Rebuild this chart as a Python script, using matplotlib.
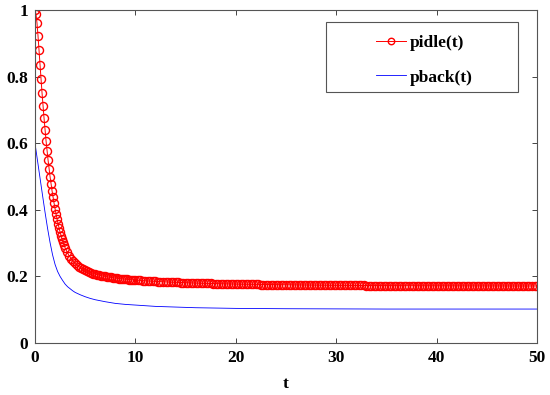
import numpy as np
import matplotlib
matplotlib.use("Agg")
import matplotlib.pyplot as plt
from matplotlib.patches import Rectangle

# pidle(t): sampled every 0.1 up to t=3, every 0.2 up to t=10, every 0.25 after
t_idle = np.concatenate([np.arange(0, 31) * 0.1,
                         3.0 + np.arange(1, 36) * 0.2,
                         10.0 + np.arange(1, 161) * 0.25])
pidle = [
    1.000, 0.988, 0.961, 0.923, 0.880, 0.836, 0.793, 0.752, 0.713, 0.676,
    0.641, 0.608, 0.578, 0.550, 0.524, 0.500, 0.478, 0.457, 0.438, 0.420,
    0.403, 0.387, 0.372, 0.358, 0.345, 0.333, 0.322, 0.312, 0.303, 0.294,
    0.286,
    # 3.2 .. 10.0
    0.2730, 0.2620, 0.2530, 0.2455, 0.2392, 0.2338, 0.2291, 0.2250, 0.2214, 0.2182,
    0.2154, 0.2129, 0.2107, 0.2087, 0.2069, 0.2053, 0.2038, 0.2024, 0.2011, 0.1999,
    0.1988, 0.1978, 0.1968, 0.1959, 0.1951, 0.1943, 0.1936, 0.1929, 0.1923, 0.1917,
    0.1911, 0.1906, 0.1901, 0.1896, 0.1891,
    # 10.25 .. 30
    0.1885, 0.1879, 0.1874, 0.1869, 0.1864, 0.1859, 0.1855, 0.1851,
    0.1847, 0.1843, 0.1839, 0.1836, 0.1832, 0.1829, 0.1826, 0.1823,
    0.1820, 0.1817, 0.1814, 0.1811, 0.1808, 0.1806, 0.1803, 0.1801,
    0.1798, 0.1796, 0.1794, 0.1792, 0.1790, 0.1788, 0.1786, 0.1784,
    0.1782, 0.1780, 0.1778, 0.1777, 0.1775, 0.1773, 0.1772, 0.1770,
    0.1769, 0.1767, 0.1766, 0.1765, 0.1763, 0.1762, 0.1761, 0.1760,
    0.1758, 0.1757, 0.1756, 0.1755, 0.1754, 0.1753, 0.1752, 0.1751,
    0.1750, 0.1749, 0.1748, 0.1747, 0.1746, 0.1745, 0.1744, 0.1743,
    0.1742, 0.1742, 0.1741, 0.1740, 0.1739, 0.1739, 0.1738, 0.1737,
    0.1737, 0.1736, 0.1735, 0.1735, 0.1734, 0.1734, 0.1733, 0.1733,
    # 30.25 .. 40
    0.1732, 0.1732, 0.1731, 0.1731, 0.1730, 0.1730, 0.1729, 0.1729, 0.1729, 0.1728,
    0.1728, 0.1727, 0.1727, 0.1727, 0.1726, 0.1726, 0.1726, 0.1725, 0.1725, 0.1725,
    0.1724, 0.1724, 0.1724, 0.1723, 0.1723, 0.1723, 0.1723, 0.1722, 0.1722, 0.1722,
    0.1722, 0.1721, 0.1721, 0.1721, 0.1721, 0.1720, 0.1720, 0.1720, 0.1720, 0.1720,
    # 40.25 .. 50
    0.1719, 0.1719, 0.1719, 0.1719, 0.1718, 0.1718, 0.1718, 0.1718, 0.1718, 0.1717,
    0.1717, 0.1717, 0.1717, 0.1717, 0.1716, 0.1716, 0.1716, 0.1716, 0.1716, 0.1716,
    0.1715, 0.1715, 0.1715, 0.1715, 0.1715, 0.1715, 0.1715, 0.1714, 0.1714, 0.1714,
    0.1714, 0.1714, 0.1714, 0.1714, 0.1713, 0.1713, 0.1713, 0.1713, 0.1713, 0.1713,
]

# pback(t)
t_back = [0, 0.25, 0.5, 0.75, 1, 1.25, 1.5, 1.75, 2, 2.25, 2.5, 2.75, 3, 3.25,
          3.5, 3.75, 4, 4.5, 5, 5.5, 6, 6.5, 7, 8, 9, 10, 12, 14, 16, 18, 20,
          25, 30, 35, 40, 45, 50]
pback = [0.600, 0.548, 0.496, 0.444, 0.393, 0.345, 0.302, 0.265, 0.236, 0.215,
         0.200, 0.188, 0.177, 0.169, 0.163, 0.157, 0.152, 0.145, 0.139, 0.134,
         0.130, 0.127, 0.124, 0.119, 0.116, 0.114, 0.110, 0.108, 0.106, 0.105,
         0.104, 0.103, 0.1025, 0.102, 0.102, 0.102, 0.102]

x_ticks = [0, 10, 20, 30, 40, 50]
y_ticks = [0, 0.2, 0.4, 0.6, 0.8, 1]
y_ticklabels = ["0", "0.2", "0.4", "0.6", "0.8", "1"]

plt.rcParams["font.family"] = ["Liberation Serif", "DejaVu Serif"]
plt.rcParams["font.weight"] = "bold"

fig = plt.figure(figsize=(5.5, 3.95), dpi=100)
ax = fig.add_axes([0.0636, 0.1316, 0.9128, 0.8430])

ax.plot(t_idle, pidle, color="red", lw=0.7, marker="o", ms=5.8,
        mfc="none", mec="red", mew=1.0, label="pidle(t)")
ax.plot(t_back, pback, color="blue", lw=0.6, label="pback(t)")

ax.set_xlim(0, 50)
ax.set_ylim(0, 1)
ax.set_xticks(x_ticks)
ax.set_xticklabels([str(v) for v in x_ticks])
ax.set_yticks(y_ticks)
ax.set_yticklabels(y_ticklabels)
ax.tick_params(direction="in", length=3.5, width=0.6, color="#262626",
               top=True, right=True, labelsize=12.5, pad=5)
for lbl in ax.get_xticklabels() + ax.get_yticklabels():
    lbl.set_fontweight("bold")
for sp in ax.spines.values():
    sp.set_color("#555555")
    sp.set_linewidth(0.8)

ax.set_xlabel("t", fontsize=12.5, fontweight="bold", labelpad=7)

# legend box in MATLAB style
ax.add_patch(Rectangle((0.579, 0.755), 0.383, 0.208, transform=ax.transAxes,
                       fill=False, ec="#555555", lw=0.8, zorder=5))
ax.legend(loc="upper left", bbox_to_anchor=(0.679, 0.925), frameon=False,
          borderpad=0, borderaxespad=0, handlelength=1.75, handletextpad=0.2,
          labelspacing=1.05, numpoints=1, markerscale=0.8,
          prop={"size": 12.5, "weight": "bold"})

fig.savefig("out.png", dpi=100)
